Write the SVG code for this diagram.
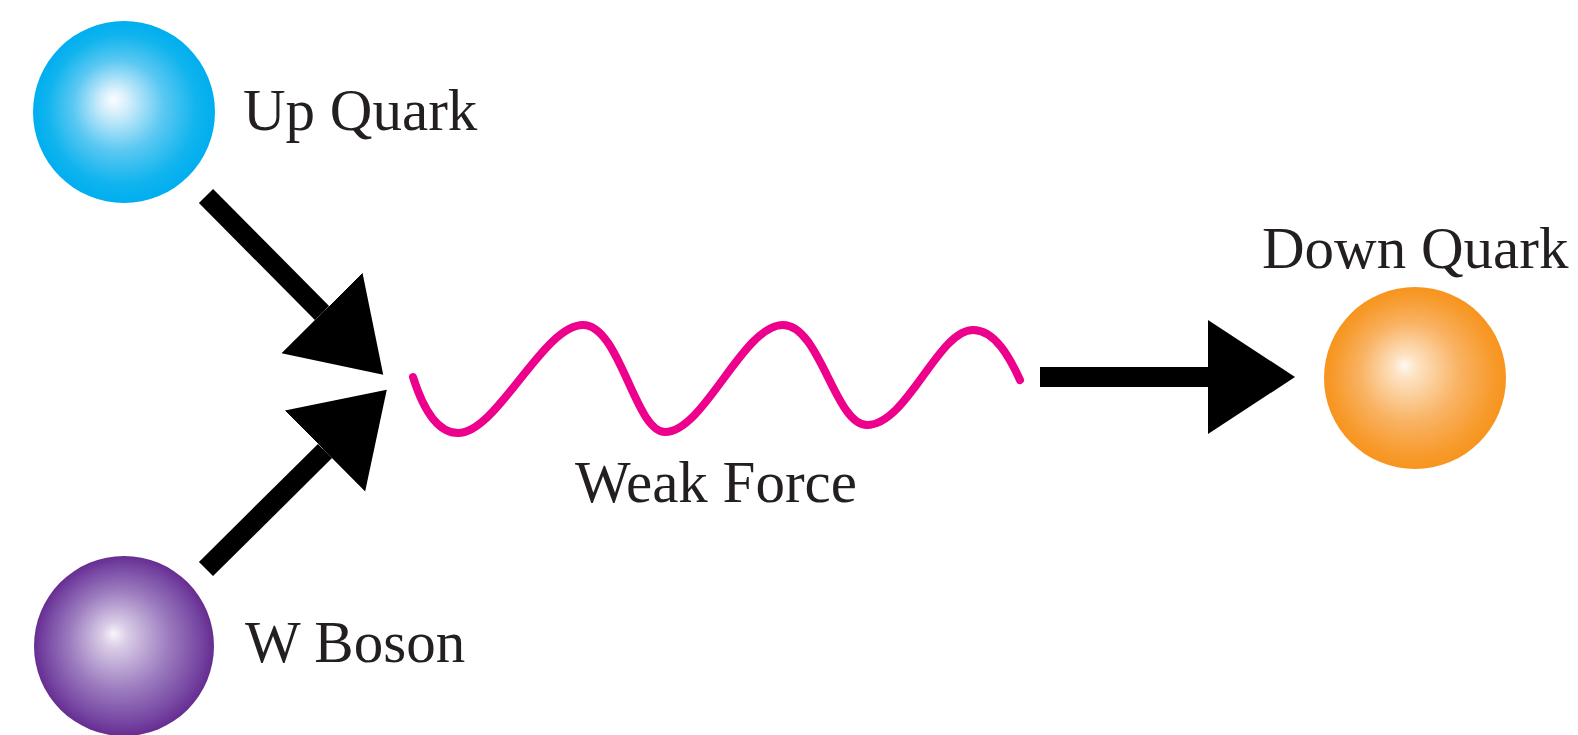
<svg xmlns="http://www.w3.org/2000/svg" width="1578" height="735" viewBox="0 0 1578 735">
  <style>
    .label { font-family: "Liberation Serif", "Times New Roman", serif; font-size: 59px; fill: #231f20; }
    .shaft { stroke: #000; stroke-width: 20; fill: none; marker-end: url(#head); }
    .wave { stroke: #ec008c; stroke-width: 8; fill: none; stroke-linecap: round; }
  </style>
  <defs>
    <marker id="head" markerUnits="userSpaceOnUse" viewBox="0 -60 90 120" refX="0" refY="0" markerWidth="90" markerHeight="120" orient="auto">
      <path d="M0,-57 L87,0 L0,57 Z" fill="#000"/>
    </marker>
    <radialGradient id="gUp" cx="0.5" cy="0.5" r="0.5" fx="0.44" fy="0.43">
      <stop offset="0" stop-color="#fbfdff"/>
      <stop offset="0.14" stop-color="#d6effb"/>
      <stop offset="0.5" stop-color="#5ac8f2"/>
      <stop offset="0.82" stop-color="#10b4ee"/>
      <stop offset="1" stop-color="#00aeef"/>
    </radialGradient>
    <radialGradient id="gW" cx="0.5" cy="0.5" r="0.5" fx="0.44" fy="0.43">
      <stop offset="0" stop-color="#f8f5fa"/>
      <stop offset="0.14" stop-color="#dacde7"/>
      <stop offset="0.55" stop-color="#9c7cbf"/>
      <stop offset="0.87" stop-color="#7646a2"/>
      <stop offset="1" stop-color="#662d91"/>
    </radialGradient>
    <radialGradient id="gDown" cx="0.5" cy="0.5" r="0.5" fx="0.44" fy="0.43">
      <stop offset="0" stop-color="#fef8f0"/>
      <stop offset="0.14" stop-color="#fde1c0"/>
      <stop offset="0.55" stop-color="#f9b262"/>
      <stop offset="0.87" stop-color="#f79b2d"/>
      <stop offset="1" stop-color="#f7941d"/>
    </radialGradient>
  </defs>
  <rect width="1578" height="735" fill="#fff"/>

  <g id="connectors">
    <line class="shaft" x1="206" y1="196" x2="322" y2="313"/>
    <line class="shaft" x1="206" y1="569" x2="325" y2="451"/>
    <line class="shaft" x1="1040" y1="377" x2="1208" y2="377"/>
  </g>

  <g id="weak-force">
    <path class="wave" d="M413,377 C425,415 440,433 458,433 C497,433 543,325 583,325 C620,325 635,432 665,432 C704,432 743,325 783,325 C820,325 835,425 867,425 C907,425 938,330 973,330 C995,330 1010,358 1020,380"/>
    <text class="label" x="575" y="502">Weak Force</text>
  </g>

  <g id="up-quark">
    <circle cx="124" cy="112" r="91" fill="url(#gUp)"/>
    <text class="label" x="243" y="130">Up Quark</text>
  </g>

  <g id="w-boson">
    <circle cx="124" cy="646" r="90" fill="url(#gW)"/>
    <text class="label" x="245" y="662">W Boson</text>
  </g>

  <g id="down-quark">
    <circle cx="1415" cy="378" r="91" fill="url(#gDown)"/>
    <text class="label" x="1262" y="268">Down Quark</text>
  </g>
</svg>
